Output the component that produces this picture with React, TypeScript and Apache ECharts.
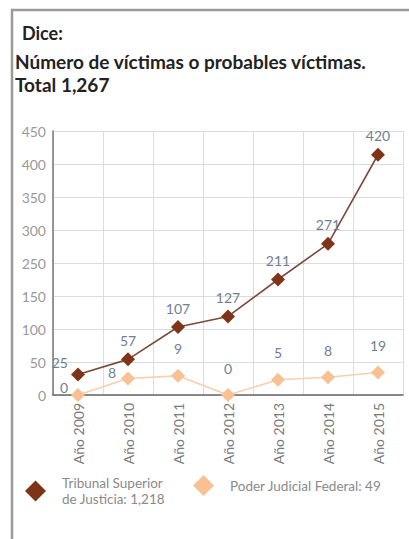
import React, { useEffect, useRef } from "react";
import * as echarts from "echarts";

const categories = ["Año 2009", "Año 2010", "Año 2011", "Año 2012", "Año 2013", "Año 2014", "Año 2015"];
// Printed values of each point
const tsjLabels = [25, 57, 107, 127, 211, 271, 420];
const pjfLabels = [0, 8, 9, 0, 5, 8, 19];
// Heights of the points as drawn against the grid (one grid step = 50)
const tsjHeights = [31, 54, 103, 119, 175, 229, 364];
const pjfHeights = [0, 25, 29, 0, 23, 27, 34];
// Tick labels printed on the y axis (the original skips 200)
const yTickLabels = ["0", "50", "100", "150", "250", "300", "350", "400", "450"];

const tsjName = "Tribunal Superior\nde Justicia: 1,218";
const pjfName = "Poder Judicial Federal: 49";

export default function App() {
  const ref = useRef<HTMLDivElement>(null);
  useEffect(() => {
    if (!ref.current) return;
    const chart = echarts.init(ref.current, null, { renderer: "svg" });
    const font = "Lato, 'Open Sans', sans-serif";
    const labelColor = "#6f7f8f";
    const tsjData = tsjHeights.map((v, i) => ({
      value: v,
      label: {
        formatter: String(tsjLabels[i]),
        position: i === 0 ? "left" : "top",
        offset: i === 0 ? [2, -12] : [0, 0],
      },
    }));
    const pjfData = pjfHeights.map((v, i) => ({
      value: v,
      label: {
        formatter: String(pjfLabels[i]),
        position: i <= 1 ? "left" : "top",
        offset: i === 0 ? [2, -8] : i === 1 ? [0, -6] : [0, -8],
      },
    }));
    const legendBase = {
      top: 470,
      itemWidth: 21,
      itemHeight: 21,
      icon: "diamond",
      textStyle: {
        fontFamily: font,
        fontSize: 13.5,
        color: "#8a8a8a",
        lineHeight: 16,
        padding: [0, 0, 0, 11],
      },
    };
    chart.setOption({
      animation: false,
      backgroundColor: "#fff",
      textStyle: { fontFamily: font },
      graphic: [
        {
          type: "polyline",
          shape: { points: [[12, 539], [12, 10], [409, 10]] },
          style: { stroke: "#9a9a9a", lineWidth: 2.5, fill: "none" },
        },
        {
          type: "text",
          x: 22,
          y: 33,
          style: { text: "Dice:", font: `bold 18px ${font}`, fill: "#222", verticalAlign: "middle" },
        },
        {
          type: "text",
          x: 15,
          y: 61,
          style: {
            text: "Número de víctimas o probables víctimas.",
            font: `bold 19px ${font}`,
            fill: "#222",
            verticalAlign: "middle",
          },
        },
        {
          type: "text",
          x: 15,
          y: 84,
          style: { text: "Total 1,267", font: `bold 19px ${font}`, fill: "#222", verticalAlign: "middle" },
        },
      ],
      legend: [
        { ...legendBase, left: 20, data: [tsjName] },
        { ...legendBase, left: 188, data: [pjfName] },
      ],
      grid: { left: 53, top: 131, width: 350, height: 264, containLabel: false },
      xAxis: {
        type: "category",
        data: categories,
        boundaryGap: true,
        axisLine: { lineStyle: { color: "#666", width: 1.5 } },
        axisTick: { show: false },
        splitLine: { show: true, lineStyle: { color: "#dcdcdc", width: 1 } },
        axisLabel: { rotate: 90, color: "#7a7a7a", fontSize: 14, margin: 8, fontFamily: font },
      },
      yAxis: {
        type: "value",
        min: 0,
        max: 400,
        interval: 50,
        axisLine: { show: true, lineStyle: { color: "#777", width: 1.5 } },
        axisTick: { show: false },
        splitLine: { lineStyle: { color: "#dcdcdc", width: 1 } },
        axisLabel: {
          color: "#999",
          fontSize: 14,
          margin: 7,
          fontFamily: font,
          formatter: (v: number) => yTickLabels[Math.round(v / 50)] ?? "",
        },
      },
      series: [
        {
          name: tsjName,
          type: "line",
          data: tsjData,
          symbol: "diamond",
          symbolSize: 14,
          itemStyle: { color: "#7e3417" },
          lineStyle: { color: "#7a4a3a", width: 1.6 },
          label: { show: true, color: labelColor, fontSize: 14, fontFamily: font, distance: 5 },
          z: 3,
        },
        {
          name: pjfName,
          type: "line",
          data: pjfData,
          symbol: "diamond",
          symbolSize: 14,
          itemStyle: { color: "#f9c093" },
          lineStyle: { color: "#f8cfae", width: 1.6 },
          label: { show: true, color: labelColor, fontSize: 14, fontFamily: font, distance: 5 },
          z: 2,
        },
      ],
    });
    return () => chart.dispose();
  }, []);
  return (
    <div
      ref={ref}
      style={{ position: "absolute", left: 0, top: 0, width: 409, height: 539 }}
    />
  );
}
